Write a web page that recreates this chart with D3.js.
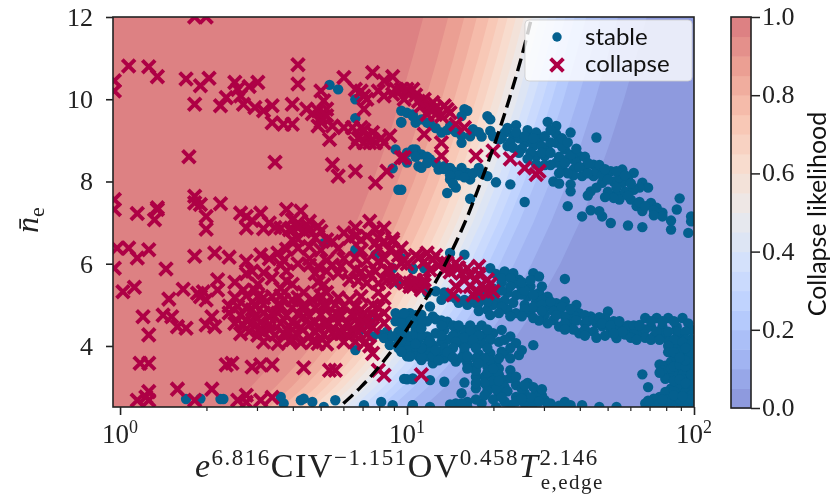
<!DOCTYPE html>
<html><head><meta charset="utf-8">
<script src="https://cdnjs.cloudflare.com/ajax/libs/d3/7.8.5/d3.min.js"></script>
<style>html,body{margin:0;padding:0;background:#fff}svg{display:block;filter:blur(0.45px)}</style>
</head><body><div id="c"></div>
<script>
// each point: [log10 of the x quantity, mean density]
const collapseUpper=[[.03,10.81],[.10,10.79],[.13,10.55],[.23,10.49],[.28,10.33],[.31,10.51],[.26,9.88],[.35,9.84],[.40,10.41],[.37,10.04],[.42,10.08],[.41,10.24],[.43,9.88],[.45,10.31],[.48,10.41],[.47,9.80],[.50,9.72],[.53,9.84],[.53,9.43],[.57,9.39],[.60,9.88],[.60,9.39],[.62,10.84],[.62,10.37],[.65,9.76],[.70,10.20],[.71,9.96],[.69,9.72],[.70,9.55],[.72,9.76],[.69,9.35],[.73,9.02],[.74,9.35],[.74,8.41],[.76,8.13],[.78,10.53],[.78,9.31],[.82,10.24],[.85,10.08],[.85,9.76],[.82,8.25],[.89,7.97],[.88,10.65],[.92,10.45],[.95,10.55],[.92,10.08],[.95,10.12],[1.00,10.16],[1.02,10.24],[.81,9.31],[.84,9.31],[.82,8.94],[.85,8.94],[.87,8.94],[.89,8.94],[.92,8.94],[.94,9.11],[.88,9.19],[.86,9.11],[.93,8.25],[.99,8.58],[.24,8.60],[.54,8.47],[.26,12],[.30,12],[-.02,10.45],[-.02,10.2],
[.98,10.24],[1.0,10.24],[.99,10],[1.06,10],[1.09,9.92],[1.07,9.63],[1.13,9.84],[1.10,9.63],[1.15,9.67],[1.17,9.39],[1.2,9.31],[1.06,9.15],[1.12,8.94],[1.12,8.62],[.98,8.58],[1.24,8.62],[1.30,8.74],[1.36,8.55],[1.41,8.33],[1.45,8.17],[1.46,8.25],[1.05,9.84],[1.12,9.59],
[.70,9.45],[.72,9.6],[.67,9.65],[.83,9.05],[.88,9.02],[.91,9.05],[.85,9.25],[.84,10.2],[.86,10.0],[.96,10.25],[.90,10.2],[1.03,10.1],[1.08,9.75],[1.04,9.95],[1.1,9.8],[1.14,9.75]];
const collapseLower=[[.26,7.64],[.26,7.48],[.28,7.44],[.35,7.46],[.13,7.36],[-.02,7.56],[-.02,7.32],
[.06,7.22],[.13,7.32],[.12,7.07],[.30,7.15],[.30,6.84],[.42,7.23],[.44,7.15],[.44,6.87],[.49,7.23],[.52,6.99],[.58,7.32],[.63,7.28],[.59,6.83],[.56,6.87],[.65,6.95],[.69,6.91],[.62,6.99],[.64,6.79],[.66,6.42],[.60,6.58],[.70,6.79],[.74,6.54],[.78,6.75],[.82,6.67],[.87,7.03],[.86,6.67],[.92,6.87],[.92,6.54],[.95,6.54],[.98,6.38],[.89,6.50],[.82,6.14],
[-.01,6.38],[.03,6.38],[.06,6.14],[.10,6.34],[.16,5.87],[.26,6.18],[.33,6.26],[.38,6.16],[.44,6.06],[.44,5.76],[.49,6.22],[.55,6.26],[.56,5.97],[.53,5.65],[.62,6.0],[.66,5.97],[.69,5.93],[.71,5.49],[.74,5.97],[.77,5.93],[.80,5.61],[.82,5.85],[.86,5.53],[.93,5.85],[.89,5.81],[.95,5.61],[1.01,5.45],[-.02,5.89],
[.01,5.32],[.05,5.43],[.22,5.38],[.17,5.14],[.08,4.71],[.15,4.75],[.18,4.71],[.20,4.47],[.23,4.43],[.10,4.27],[.27,5.28],[.29,5.32],[.28,5.20],[.30,5.12],[.34,5.61],[.34,5.36],[.32,4.71],[.30,4.51],[.33,4.47],[.38,4.80],[.41,4.96],[.43,5.36],[.44,4.63],[.45,4.35],[.48,5.2],[.50,4.80],[.53,5.2],[.57,5.12],[.60,5.12],[.49,4.43],[.52,4.39],[.56,4.55],[.59,4.47],[.60,4.15],[.64,4.71],[.66,4.23],[.69,4.06],[.67,5.12],[.71,5.0],[.74,4.71],[.74,4.31],[.78,4.96],[.79,4.55],[.81,4.31],[.84,4.88],[.86,4.71],[.85,4.06],[.88,3.82],[.92,4.80],[.92,5.16],[.92,4.55],[.84,5.2],[.80,5.12],[.46,4.88],[.55,4.80],[.46,4.55],[.52,4.7],[.57,4.3],[.63,4.45],[.69,4.45],[.72,4.6],[.76,4.75],[.77,4.3],[.83,4.55],[.88,4.45],[.82,4.1],
[.07,3.58],[.10,3.58],[.37,3.54],[.39,3.58],[.46,3.49],[.49,3.54],[.53,3.54],[.64,3.47],[.73,3.41],[.75,3.41],[.90,3.41],[.92,3.29],[.06,2.68],[.09,2.76],[.10,2.89],[.10,2.68],[.20,2.95],[.32,2.95],[.26,2.68],[.41,2.68],[.44,2.80],[.44,2.63],[.49,2.68],[.53,2.75],
[.99,6.10],[.99,5.53],[1.02,5.45],[1.05,5.37],[1.07,6.26],[1.04,6.14],[1.09,6.10],[1.12,6.02],[1.16,5.24],[1.17,6.02],[1.21,5.89],[1.25,5.94],[1.23,5.24],[1.26,5.49],[1.28,5.61],[1.30,5.33],[1.24,5.61],[1.28,5.29],[1.05,3.3],[1.01,5.53],[1.19,5.77],[1.06,5.49],[1.14,6.02],[.98,6.01],[1.02,5.53]];
const collapseDense=[[.40,5.18],[.44,5.22],[.50,5.17],[.56,5.22],[.62,5.18],[.70,5.22],[.76,5.17],
[.38,4.97],[.44,4.93],[.47,5.0],[.56,4.97],[.60,4.93],[.64,4.99],[.68,4.93],[.72,4.97],[.75,5.0],[.82,4.95],[.88,4.99],[.90,4.93],
[.42,4.75],[.47,4.72],[.53,4.78],[.58,4.74],[.62,4.78],[.66,4.72],[.70,4.76],[.77,4.73],[.81,4.78],[.84,4.72],[.88,4.76],[.90,4.72],
[.40,4.55],[.43,4.5],[.49,4.58],[.52,4.53],[.60,4.58],[.66,4.52],[.68,4.57],[.72,4.5],[.76,4.56],[.80,4.5],[.85,4.56],[.87,4.52],
[.42,4.3],[.48,4.26],[.50,4.33],[.54,4.27],[.59,4.32],[.62,4.27],[.68,4.33],[.71,4.28],[.76,4.33],[.79,4.27],[.83,4.32],[.86,4.28],
[.50,4.1],[.55,4.06],[.59,4.12],[.63,4.08],[.67,4.1],[.72,4.05],[.78,4.1],[.87,4.0],
[.40,5.55],[.48,5.5],[.58,5.58],[.60,5.5],[.69,5.55],[.83,5.58],[.90,5.52],
[.46,5.82],[.50,5.78],[.58,5.82],[.68,5.76],[.72,5.82],[.76,5.77],[.84,5.8],[.87,5.76],[.94,5.82],
[.52,6.12],[.57,6.08],[.66,6.12],[.72,6.08],[.78,6.12],[.86,6.08],[.92,6.12],
[.58,6.35],[.62,6.38],[.70,6.33],[.76,6.37],[.84,6.33],[.90,6.38],[.94,6.33],
[.62,6.6],[.68,6.63],[.72,6.58],[.80,6.62],[.84,6.58],[.90,6.63],[.95,6.6],
[.50,6.85],[.54,6.88],[.60,6.83],[.62,6.87],[.66,6.84],[.82,6.88],[.89,6.83],[.46,7.05],[.60,7.07],[.66,7.03],
[1.03,6.2],[1.06,6.05],[1.10,6.2],[1.0,6.0],[1.13,5.85],[1.18,5.9],[1.22,5.7],[1.25,5.75],[1.27,5.4],[1.22,5.45],[1.29,5.5],[1.25,5.3],[1.03,5.6],[1.06,5.6],[.96,5.55],[.93,5.6],
[.70,4.2],[.64,4.9],[.55,5.0],[.5,5.0],[.47,5.35],[.56,5.4],[.64,5.3],[.72,5.3],[.90,6.05],[.97,6.2],[.90,5.3],[1.08,5.85],[1.11,5.95],[1.15,5.8],[1.2,5.6],[1.17,5.45]];
const stableUpper=[[.73,10.35],[.76,10.24],[.82,10],[.82,9.54],[.97,7.80],[.95,8.32],[.98,9.72],[1.02,9.63],[.98,9.45],[1.03,9.43],[1.03,8.78],[1.0,8.46],[.96,8.78],[1.04,8.37],
[1.0,9.67],[1.02,9.59],[1.05,9.51],[.98,9.43],[1.07,9.43],[1.12,9.19],[1.15,9.35],[1.2,9.76],[1.21,9.72],[1.19,9.59],[1.23,9.27],[1.19,8.94],[1.19,9.11],[1.28,9.59],[1.29,9.51],[1.29,9.23],[1.26,9.09],[1.34,9.19],[1.38,9.37],[1.37,9.11],[1.42,9.25],[1.45,9.19],[1.49,9.45],[1.52,9.35],[1.52,9.15],[1.57,9.19],[1.66,9.07],[1.32,9.02],[1.41,8.94],[1.44,8.86],[1.46,9.02],[1.45,8.62],[1.49,8.78],[1.52,8.94],[1.55,8.78],[1.52,8.46],[1.56,8.54],[1.58,8.29],[1.60,8.62],[1.61,8.13],[1.65,8.41],[1.65,8.13],[1.71,8.25],[1.75,8.29],[1.79,8.21],[1.68,7.97],[1.72,8.0],[1.75,7.97],[1.82,7.97],[1.84,7.85],[1.81,7.85],[1.51,8.0],[1.53,7.95],[1.57,7.93],[1.57,7.76],[1.64,7.76],[1.63,7.66],[1.73,7.68],[1.74,7.56],[1.78,7.56],[1.80,7.40],[1.82,7.28],[1.85,7.48],[1.87,7.36],[1.89,7.24],[1.89,7.15],[1.95,7.59],[1.94,7.32],[1.99,7.15],[1.99,7.03],[1.92,6.83],[1.98,6.75],[1.77,6.93],[1.82,6.89],[1.71,6.99],[1.68,7.15],[1.64,7.30],[1.67,7.28],[1.61,7.15],[1.56,7.40],[1.41,7.50],[1.36,7.93],[1.31,7.98],[1.28,8.13],[1.22,7.58],[1.14,7.72],[1.17,7.85],[1.15,8.05],[1.22,8.05],[1.25,8.33],[1.21,8.21],[1.19,8.33],[1.15,8.33],[1.11,8.29],[1.08,8.54],[1.05,8.33],[1.02,8.78],[1.05,8.66],[.98,7.80],[1.13,8.37],[1.17,8.21],[1.35,8.86],[1.48,8.62],[1.50,8.40],[1.54,8.30],[1.47,8.85],[1.58,8.55],
[1.08,9.4],[1.10,9.3],[1.14,9.25],[1.17,9.2],[1.22,9.1],[1.25,9.2],[1.33,9.05],[1.36,8.95],[1.39,9.05],[1.40,8.8],[1.43,9.05],[1.43,8.7],[1.47,8.7],[1.50,8.7],[1.50,8.95],[1.53,8.6],[1.54,8.85],[1.57,8.65],[1.59,8.45],[1.62,8.35],[1.55,8.45],[1.58,8.15],[1.63,8.2],[1.66,8.25],[1.68,8.15],[1.70,8.05],[1.74,8.1],[1.77,8.05],[1.73,7.85],[1.76,7.75],[1.79,7.8],[1.70,7.75],[1.66,7.85],[1.77,7.65],[1.81,7.5],[1.83,7.4],[1.86,7.3],
[1.0,8.7],[1.07,8.6],[1.1,8.45],[1.13,8.3],[1.16,8.25],[1.18,8.15],[1.2,8.1],[1.23,8.2],[1.15,8.15],[1.16,7.95],[1.26,8.2],[1.07,8.45],[1.03,8.6],
[1.30,9.1],[1.35,9.3],[1.38,9.2],[1.41,9.1],[1.44,9.05],[1.48,9.1],[1.50,9.25],[1.54,9.05],[1.56,8.95],[1.59,8.8],[1.62,8.6],[1.63,8.45],[1.67,8.4],[1.69,8.3],[1.73,8.25],[1.76,8.15],[1.60,8.35],[1.56,8.2],[1.53,8.2],[1.48,8.4],[1.45,8.42],[1.42,8.55],[1.39,8.7],[1.37,8.82],[1.78,7.95],[1.72,7.6],[1.69,7.62],[1.92,7.05],[1.86,7.18]];
const stableMiddle=[[1.02,5.89],[1.06,5.89],[1.20,6.22],[1.15,6.26],[1.29,5.89],[1.34,5.81],[1.37,5.77],[1.44,5.77],[1.46,5.69],[1.55,5.63],[1.39,5.61],[1.35,5.29],[1.38,5.53],[1.43,5.45],[1.46,5.29],[1.49,5.2],[1.38,5.24],[1.42,5.2],[1.45,5.08],[1.49,4.96],[1.52,5.04],[1.55,5.08],[1.59,5.0],[1.21,5.0],[1.24,5.04],[1.28,4.88],[1.31,5.08],[1.35,4.88],[1.38,4.80],[1.43,4.80],[1.48,4.76],[1.51,4.63],[1.53,4.47],[1.57,4.63],[1.60,4.80],[1.60,4.31],[1.64,4.72],[1.70,4.84],[1.66,4.55],[1.71,4.39],[1.74,4.47],[1.73,4.19],[1.78,4.39],[1.81,4.31],[1.10,5.33],[1.33,5.55],[1.30,5.40],[1.26,5.15],[1.34,5.10],[1.41,5.0],[1.47,5.12],[1.53,4.85],[1.45,4.95],[1.58,4.75],[1.62,4.55],[1.68,4.48],[1.69,4.68],[1.76,4.28],
[1.31,5.75],[1.33,5.65],[1.36,5.65],[1.36,5.45],[1.40,5.4],[1.40,5.25],[1.33,5.35],[1.30,5.25],[1.27,5.3],[1.25,5.05],[1.23,5.15],[1.30,5.0],[1.33,4.95],[1.37,5.05],[1.41,5.35],[1.44,5.25],[1.44,4.95],[1.41,4.9],[1.47,5.0],[1.47,4.85],[1.50,5.08],[1.51,4.85],[1.54,4.95],[1.55,4.72],[1.57,4.9],[1.59,4.62],[1.62,4.75],[1.63,4.6],[1.65,4.65],[1.67,4.7],[1.68,4.55],[1.72,4.6],[1.71,4.5],[1.74,4.6],[1.77,4.5],[1.79,4.5],[1.75,4.35],[1.79,4.28],[1.83,4.4],[1.83,4.2],[1.56,4.45],[1.58,4.4],[1.62,4.4],[1.65,4.35],[1.55,4.55],[1.18,5.05],[1.15,5.2],[1.13,5.3],[1.07,5.3],
[1.12,5.12],[1.17,5.15],[1.20,5.12],[1.28,5.08],[1.32,4.8],[1.29,4.75],[1.25,4.85],[1.36,4.72],[1.40,4.72],[1.46,4.62],[1.49,4.55],[1.44,4.68],[1.55,4.4],[1.62,4.25],[1.66,4.2],[1.69,4.25],[1.72,4.3],[1.78,4.2],[1.85,4.15],[1.80,4.15],[1.40,5.55],[1.43,5.6],[1.47,5.45],[1.52,4.75]];
const stableRight=[[1.83,4.68],[1.87,4.68],[1.91,4.68],[1.96,4.68],[1.81,4.51],[1.85,4.47],[1.89,4.47],[1.94,4.47],[1.99,4.39],[1.86,4.23],[1.91,4.15],[1.95,4.23],[1.99,4.15],[1.94,3.94],[1.98,3.90],[1.93,3.74],[1.96,3.62],[1.99,3.70],[1.88,3.55],[1.91,3.33],[1.94,3.41],[1.98,3.41],[1.99,3.25],[1.82,3.31],[1.84,3.0],[1.92,2.97],[1.96,2.97],[1.99,3.01],[1.88,2.76],[1.93,2.76],[1.98,2.72],[1.86,2.6],[1.83,2.6],[1.90,2.6],[1.95,2.6],[1.99,2.6],[1.89,4.30],[1.93,4.05],[1.96,4.0],[1.90,3.52],[1.93,3.55],[1.97,3.78],[1.99,3.95],[1.94,4.35],[1.91,2.85],[1.95,2.85],
[1.85,4.6],[1.89,4.6],[1.93,4.6],[1.98,4.55],[1.87,4.35],[1.91,4.35],[1.97,4.35],[1.88,4.15],[1.93,4.15],[1.97,4.15],[1.91,4.0],[1.95,3.85],[1.91,3.85],[1.99,3.82],[1.92,3.62],[1.94,3.7],[1.99,3.55],[1.96,3.45],[1.93,3.3],[1.96,3.3],[1.89,3.4],[1.94,3.0],[1.90,2.88],[1.93,2.9],[1.97,2.87],[1.99,2.8],[1.86,2.72],[1.84,2.67],[1.88,2.6],[1.92,2.6],[1.97,2.6],[1.91,2.7],[1.95,2.7],[1.99,2.7],[1.99,3.45],[1.99,3.6],[1.97,4.0],[1.99,4.05],[1.96,4.1],[1.93,3.85],[1.97,3.95],
[1.90,3.2],[1.93,3.15],[1.96,3.2],[1.99,3.12],[1.92,3.45],[1.88,3.35],[1.93,3.5],[1.95,3.55],[1.97,3.5],[1.97,3.65],[1.95,3.72],[1.99,3.3],[1.95,3.18],[1.97,3.1],[1.93,2.8],[1.96,2.78],[1.89,2.7]];
const stableLower=[[.99,4.80],[1.01,4.8],[1.05,4.76],[1.09,4.72],[1.08,4.96],[1.14,4.59],[1.13,4.39],[1.17,4.39],[1.20,4.39],[1.24,4.39],[1.27,4.27],[1.30,4.31],[1.33,4.39],[1.36,4.23],[1.38,4.07],[1.44,4.02],[1.39,3.78],[1.33,3.86],[1.34,3.82],[1.29,3.82],[1.26,4.07],[1.22,4.07],[1.19,4.07],[1.15,3.82],[1.17,3.62],[1.21,3.58],[1.24,3.5],[1.28,3.5],[1.31,3.58],[1.36,3.41],[1.34,3.17],[1.30,3.25],[1.27,3.25],[1.24,2.97],[1.28,3.01],[1.32,2.85],[1.38,3.05],[1.41,2.85],[1.45,2.85],[1.48,2.68],[1.38,2.76],[1.19,2.85],[1.21,2.64],[1.17,2.6],[1.26,2.6],[1.31,2.52],[1.36,2.56],[1.41,2.6],[1.44,2.6],[1.50,2.6],[1.55,2.64],[1.57,2.56],[1.61,2.56],[1.67,2.52],[1.73,2.52],[1.08,2.52],[1.02,2.56],[1.13,3.13],[1.20,3.11],[.99,3.2],[1.08,3.17],[1.02,3.21],[1.09,3.58],[1.06,3.86],[1.05,3.66],[1.02,3.9],[1.0,4.07],[1.09,4.02],[1.07,4.23],[1.03,4.39],[1.10,4.31],[.99,4.39],[1.22,4.25],[1.18,4.22],[1.25,3.80],[1.20,3.85],[1.29,3.65],[1.24,3.25],[1.30,3.05],[1.14,4.15],[1.11,3.85],[1.04,4.15],
[1.12,4.62],[1.10,4.65],[1.07,4.6],[1.03,4.6],[1.0,4.6],[1.12,4.5],[1.16,4.5],[1.18,4.5],[1.22,4.5],[1.26,4.5],[1.28,4.4],[1.22,4.35],[1.25,4.25],[1.20,4.2],[1.16,4.25],[1.12,4.1],[1.17,4.1],[1.23,4.15],[1.29,4.15],[1.28,3.95],[1.24,3.95],[1.20,3.95],[1.16,3.95],[1.13,3.95],[1.13,3.7],[1.19,3.72],[1.24,3.7],[1.27,3.7],[1.32,3.7],[1.32,3.45],[1.28,3.35],[1.24,3.4],[1.21,3.45],[1.32,3.3],[1.36,3.22],[1.30,3.15],[1.27,3.1],[1.24,3.1],[1.34,3.0],[1.31,2.95],[1.28,2.9],[1.35,2.9],[1.40,2.95],[1.43,2.75],[1.38,2.65],[1.34,2.65],[1.47,2.8],[1.49,2.6],[1.21,2.52],[1.24,2.7],
[.98,4.7],[1.05,4.6],[1.0,4.25],[1.05,4.25],[.96,4.6],[.93,4.35],[.97,4.35],[1.02,4.25],[1.07,4.05],[1.04,3.9],[1.08,3.85],[1.04,3.75],[1.07,3.75],[1.09,3.75],[.97,4.05],[.90,4.3],[.93,4.2],[1.0,4.15],[1.0,4.0],[.97,3.95],[1.02,3.85],[1.0,3.75],
[.71,6.5],[.23,2.71],[.28,2.72],[.35,2.71],[.36,2.71],[.56,2.76],[.57,2.6],[.63,2.68],[.64,2.72],[.67,2.64],[.71,2.52],[.75,2.68],[.85,2.56],[.91,2.64],[.95,2.56],[1.02,2.56],[1.0,3.19],[1.02,3.19],
[.96,4.80],[.99,4.8],[1.03,4.75],[.98,4.55],[1.02,4.55],[1.05,4.43],[.88,4.23],[.92,4.19],[.95,4.23],[.98,4.15],[.94,4.02],[1.0,3.9],[1.03,3.98],[1.05,3.74],[1.01,3.74],[.98,3.86],[.82,3.9],[.84,4.39],[.87,4.59],[.82,6.34],[.89,6.22],[.95,5.89],[.98,6.14],[1.02,5.87],[.97,5.53],
[1.32,4.1],[1.34,4.15],[1.36,3.95],[1.40,3.9],[1.36,3.7],[1.30,3.45],[1.38,3.25],[1.42,3.1],[1.44,3.0],[1.47,2.95],[1.41,3.05],[1.32,3.15],[1.27,2.8],[1.30,2.7],[1.33,2.75],[1.40,2.72],[1.46,2.65],[1.53,2.55],[1.15,2.58],[1.19,2.6],[1.10,3.9],[1.05,3.95],[1.03,4.05],[1.08,4.12],[1.12,4.25],[1.14,3.85],[1.11,3.65],[1.16,3.72],[1.21,3.75],[1.25,3.58]];
const collapsePoints=collapseUpper.concat(collapseLower,collapseDense);
const stablePoints=stableUpper.concat(stableMiddle,stableRight,stableLower);
// dashed 50 % boundary
const boundaryX=[6,6.9,9.1,11.3,13.6,15.9,18.1,20.4,22.7,25,27.2];
const boundaryY=[2.6,3,4,5,6,7,8,9,10,11,12];
// contour levels and the x/n ratio where each level runs
const levels=[.95,.9,.85,.8,.75,.7,.65,.6,.55,.5,.45,.4,.35,.3,.25,.2,.15,.1,.05];
const levelRatio=[.95,1.16,1.32,1.46,1.61,1.74,1.87,2.0,2.13,2.27,2.42,2.58,2.76,2.97,3.2,3.51,3.94,4.53,5.7];
const levelSpanY=[2.5,3,3.5,4,5,6,7,8,9,10,11,12];
const coolStops=[0,.125,.25,.375,.5,.625,.75,.875,1];
const coolColors=["#3b4cc0","#6282ea","#8db0fe","#b8cdf9","#dddcdc","#f4c5ad","#f49a7b","#dd5f4b","#c1212b"];
const yTicks=[4,6,8,10,12], cbTicks=[0,.2,.4,.6,.8,1];
const xDecades=[1,10,100], xExps=["0","1","2"];
const serif='"Liberation Serif",serif', sans='Lato,sans-serif';
const W=838,H=499,L=113,R=694,T=17,B=407;
const svg=d3.select("#c").append("svg").attr("width",W).attr("height",H);
const x=d3.scaleLog().domain([0.945,100]).range([L,R]);
const y=d3.scaleLinear().domain([2.516,12]).range([B,T]);
const cool=d3.scaleLinear().domain(coolStops).range(coolColors).interpolate(d3.interpolateRgb);
svg.append("clipPath").attr("id","plot").append("rect").attr("x",L).attr("y",T).attr("width",R-L).attr("height",B-T);
const g=svg.append("g").attr("clip-path","url(#plot)");
const bg=g.append("g");
// opaque composites of coolwarm at alpha .6 over white
const tint=p=>{const c=d3.rgb(cool(p));return d3.rgb(c.r*.6+102,c.g*.6+102,c.b*.6+102).formatHex();};
bg.append("rect").attr("x",L).attr("y",T).attr("width",R-L).attr("height",B-T).attr("fill",tint(.975));
levels.forEach((lv,i)=>{
  const pts=levelSpanY.map(n=>[x(levelRatio[i]*n),y(n)]);
  const poly=pts.concat([[R+5,T],[R+5,B+5]]);
  bg.append("path").attr("d",d3.line()(poly)+"Z").attr("fill",tint(lv-.025));
});
g.append("g").selectAll("circle").data(stablePoints).join("circle")
  .attr("cx",d=>x(10**d[0])).attr("cy",d=>y(d[1])).attr("r",5.2).attr("fill","#04608f");
const crossPath="M-6.4,-6.4L6.4,6.4M-6.4,6.4L6.4,-6.4";
g.append("g").selectAll("path").data(collapsePoints).join("path")
  .attr("transform",d=>`translate(${x(10**d[0])},${y(d[1])})`).attr("d",crossPath)
  .attr("stroke","#ae0045").attr("stroke-width",3.9).attr("fill","none");
g.append("path").attr("d",d3.line().x((d,i)=>x(d)).y((d,i)=>y(boundaryY[i])).curve(d3.curveMonotoneY)(boundaryX))
  .attr("fill","none").attr("stroke","#000").attr("stroke-width",3.4).attr("stroke-dasharray","13,6");
// legend
const lg=svg.append("g");
lg.append("rect").attr("x",525).attr("y",20).attr("width",167).attr("height",61).attr("rx",4)
  .attr("fill","#fff").attr("fill-opacity",.8).attr("stroke","#ccc").attr("stroke-opacity",.8);
lg.append("circle").attr("cx",557).attr("cy",37).attr("r",4.7).attr("fill","#04608f");
lg.append("path").attr("transform","translate(557,65)").attr("d",crossPath).attr("stroke","#ae0045").attr("stroke-width",3.9);
lg.append("text").attr("x",585).attr("y",45).text("stable").attr("font-family",sans).attr("font-size",24).attr("fill","#111");
lg.append("text").attr("x",585).attr("y",72).text("collapse").attr("font-family",sans).attr("font-size",24).attr("fill","#111");
// frame + axes
svg.append("rect").attr("x",L).attr("y",T).attr("width",R-L).attr("height",B-T).attr("fill","none").attr("stroke","#222").attr("stroke-width",1.6);
const ax=svg.append("g").attr("transform",`translate(0,${B})`).call(d3.axisBottom(x).tickValues(x.ticks().filter(v=>v>=1)).tickSize(4).tickFormat(""));
ax.select(".domain").remove();
ax.selectAll("line").attr("stroke","#222").attr("stroke-width",1.2).filter(d=>xDecades.includes(d)).attr("y2",8).attr("stroke-width",1.6);
xDecades.forEach((v,i)=>{
  const t=svg.append("text").attr("x",x(v)).attr("y",443).attr("text-anchor","middle").attr("font-family",serif).attr("font-size",27).attr("fill","#222");
  t.append("tspan").text("10");
  t.append("tspan").text(xExps[i]).attr("font-size",18).attr("dy",-10);
});
const ay=svg.append("g").attr("transform",`translate(${L},0)`).call(d3.axisLeft(y).tickValues(yTicks).tickSize(7).tickFormat(""));
ay.select(".domain").remove();
ay.selectAll("line").attr("stroke","#222").attr("stroke-width",1.6);
yTicks.forEach(v=>svg.append("text").attr("x",93).attr("y",y(v)+9).attr("text-anchor","end").attr("font-family",serif).attr("font-size",26).attr("fill","#222").text(v));
// x label
const xl=svg.append("text").attr("x",195).attr("y",477).attr("font-family",serif).attr("font-size",34).attr("letter-spacing",1.5).attr("fill","#222");
xl.append("tspan").text("e").attr("font-style","italic");
xl.append("tspan").text("6.816").attr("font-size",23).attr("dy",-12);
xl.append("tspan").text("CIV").attr("dy",12);
xl.append("tspan").text("\u22121.151").attr("font-size",23).attr("dy",-12);
xl.append("tspan").text("OV").attr("dy",12);
xl.append("tspan").text("0.458").attr("font-size",23).attr("dy",-12);
xl.append("tspan").text("T").attr("font-style","italic").attr("dy",12);
xl.append("tspan").text("2.146").attr("font-size",23).attr("dy",-12);
xl.append("tspan").text("e,edge").attr("font-size",21).attr("dy",24).attr("dx",-58);
// y label
const yl=svg.append("text").attr("transform","translate(38,220) rotate(-90)").attr("text-anchor","middle").attr("font-family",serif).attr("font-size",32).attr("fill","#222");
yl.append("tspan").text("n\u0304").attr("font-style","italic");
yl.append("tspan").text("e").attr("font-size",22).attr("dy",6);
// colorbar
const cy=d3.scaleLinear().domain([0,1]).range([408,17]);
const cbX=731,cbW=20;
svg.append("g").selectAll("rect").data(d3.range(20)).join("rect")
  .attr("x",cbX).attr("width",cbW).attr("y",i=>cy((i+1)/20)).attr("height",cy(0)-cy(.05)+.5)
  .attr("fill",i=>tint((i+.5)/20));
svg.append("rect").attr("x",cbX).attr("y",17).attr("width",cbW).attr("height",391).attr("fill","none").attr("stroke","#222").attr("stroke-width",1.6);
const ac=svg.append("g").attr("transform",`translate(${cbX+cbW},0)`).call(d3.axisRight(cy).tickValues(cbTicks).tickSize(9).tickFormat(""));
ac.select(".domain").remove();
ac.selectAll("line").attr("stroke","#222").attr("stroke-width",1.5);
cbTicks.forEach(v=>svg.append("text").attr("x",762).attr("y",cy(v)+8).attr("font-family",serif).attr("font-size",26).attr("fill","#222").text(v.toFixed(1)));
svg.append("text").attr("transform","translate(826,214) rotate(-90)").attr("text-anchor","middle").attr("font-family",sans).attr("font-size",25).attr("fill","#111").text("Collapse likelihood");
</script></body></html>
